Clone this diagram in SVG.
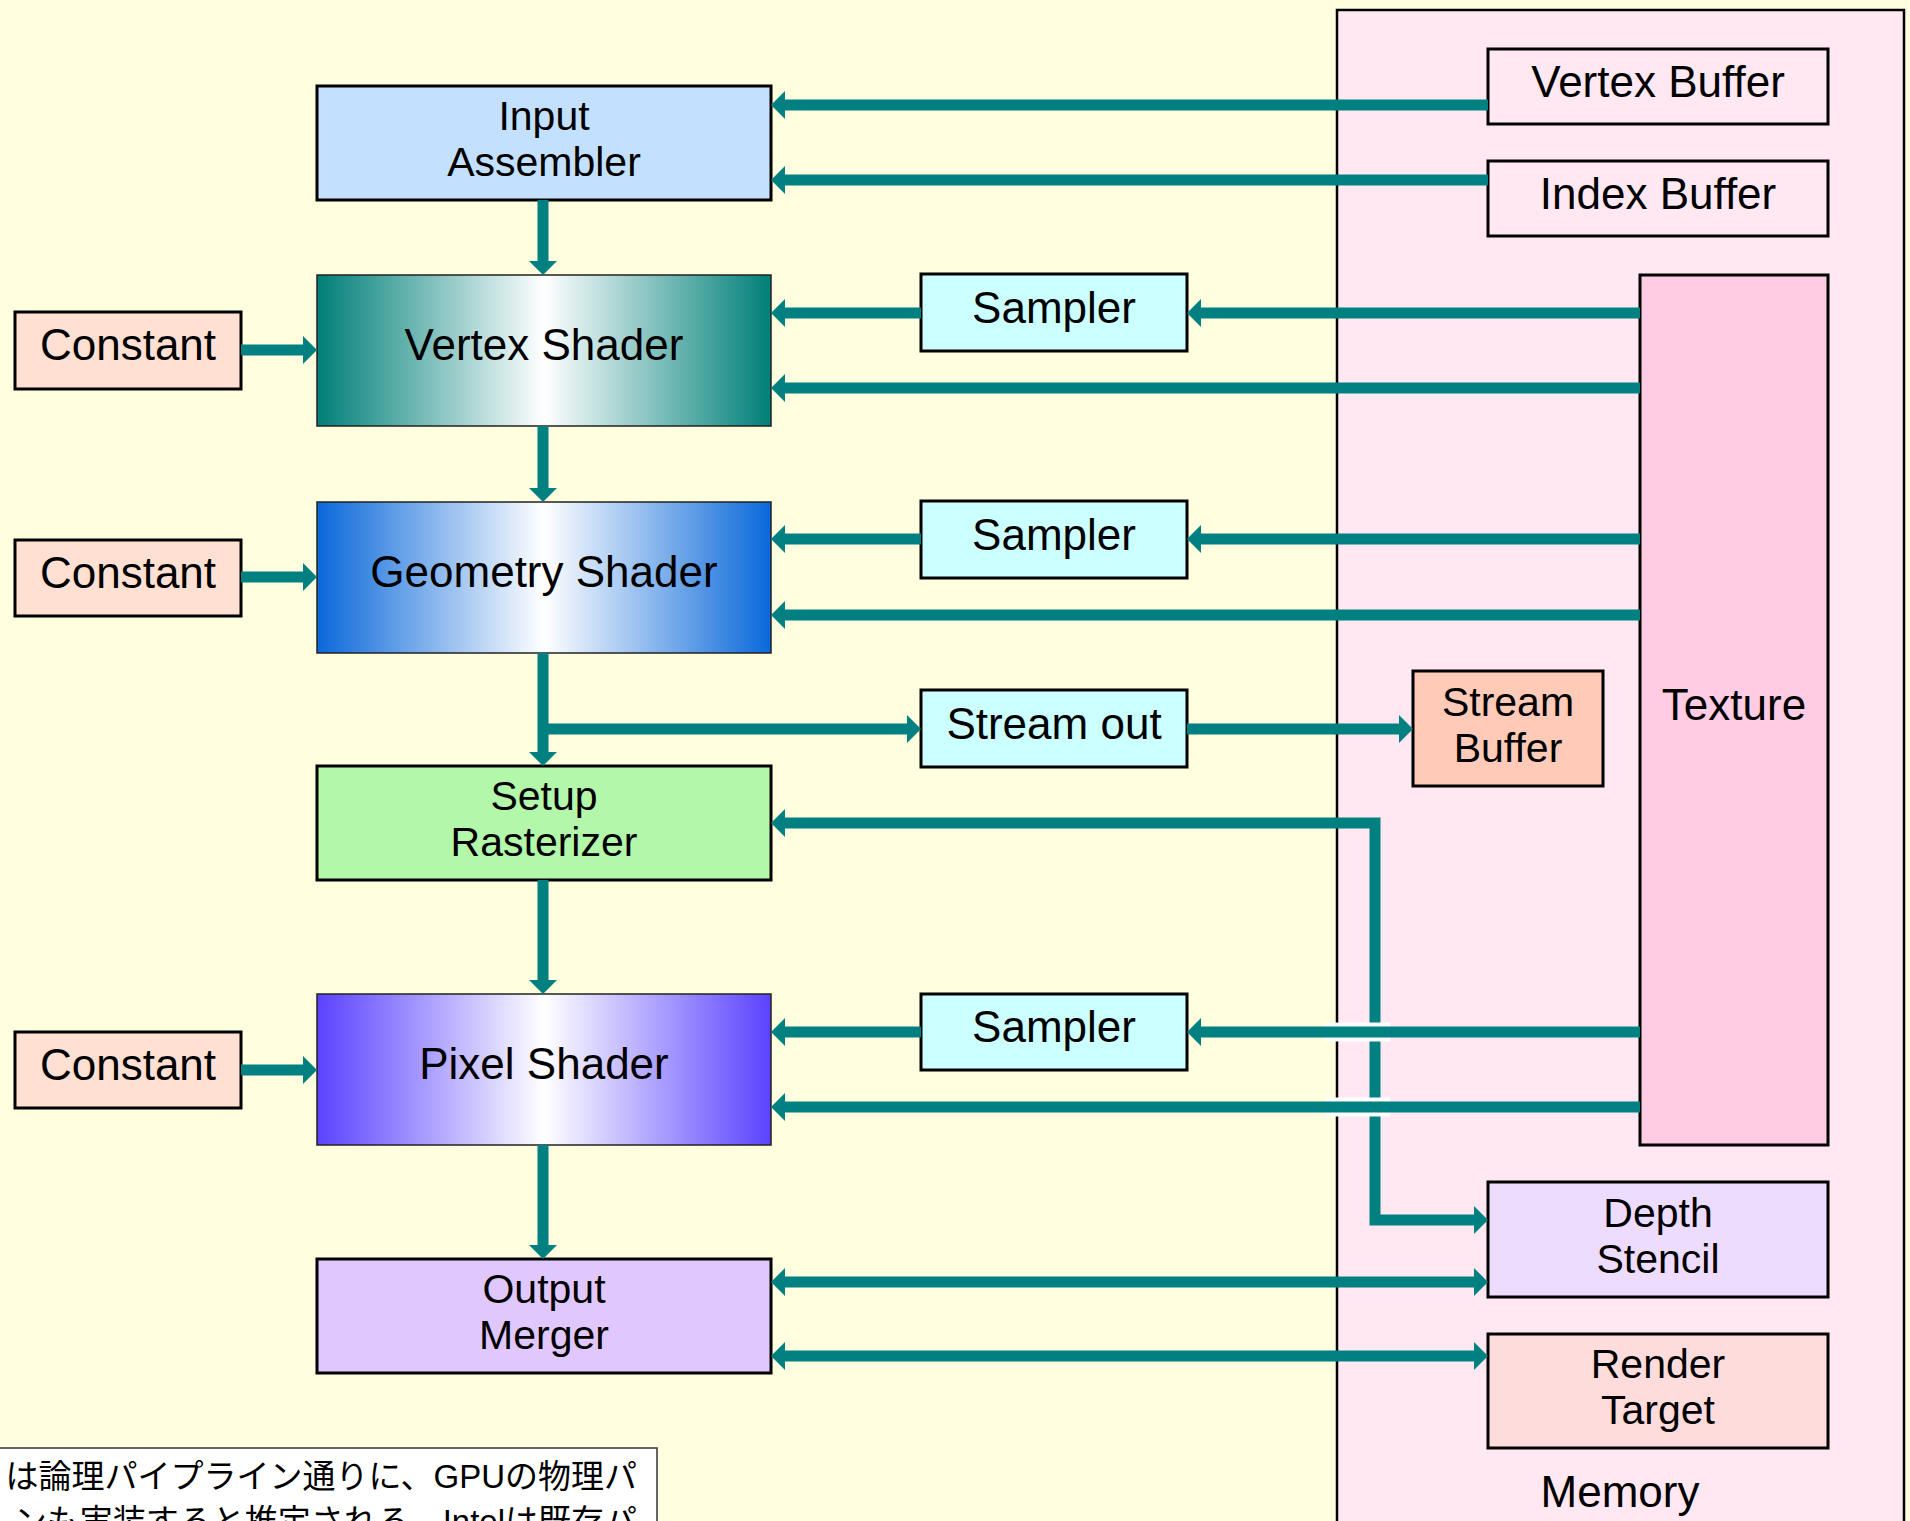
<svg xmlns="http://www.w3.org/2000/svg" width="1910" height="1521" viewBox="0 0 1910 1521">
<style>
.box{stroke:#000;stroke-width:3}
.thin{stroke:#222;stroke-width:1.5}
.lbl{font-family:"Liberation Sans",Arial,sans-serif;font-size:44px;fill:#000;text-anchor:middle}
.lbl2{font-family:"Liberation Sans",Arial,sans-serif;font-size:41px;fill:#000;text-anchor:middle}
.jp{font-family:"Liberation Sans","Noto Sans CJK JP",sans-serif;font-size:33px;fill:#000;text-anchor:end}
.con{fill:none;stroke:#008080;stroke-width:11;stroke-linejoin:miter}
.halo{fill:none;stroke:#fff;stroke-width:19}
</style>
<defs>
<marker id="ah" viewBox="0 0 14 28" refX="0" refY="14" markerWidth="14" markerHeight="28" markerUnits="userSpaceOnUse" orient="auto-start-reverse">
<path d="M0,0 L14,14 L0,28 z" fill="#008080"/>
</marker>
<linearGradient id="gVS" x1="0" y1="0" x2="1" y2="0">
<stop offset="0" stop-color="#007f78"/><stop offset="0.5" stop-color="#ffffff"/><stop offset="1" stop-color="#007f78"/>
</linearGradient>
<linearGradient id="gGS" x1="0" y1="0" x2="1" y2="0">
<stop offset="0" stop-color="#0a68da"/><stop offset="0.5" stop-color="#ffffff"/><stop offset="1" stop-color="#0a68da"/>
</linearGradient>
<linearGradient id="gPS" x1="0" y1="0" x2="1" y2="0">
<stop offset="0" stop-color="#5a42ff"/><stop offset="0.5" stop-color="#ffffff"/><stop offset="1" stop-color="#5a42ff"/>
</linearGradient>
</defs>
<rect x="0" y="0" width="1910" height="1521" fill="#ffffdf"/>

<g id="memory">
<rect x="1337" y="10" width="567" height="1530" fill="#ffe8f1" stroke="#000" stroke-width="2.5"/>
<text class="lbl" x="1620" y="1507">Memory</text>
</g>

<g id="vertex-buffer">
<rect class="box" x="1488" y="49" width="340" height="75" fill="#ffe8f1"/>
<text class="lbl" x="1658" y="97">Vertex Buffer</text>
</g>
<g id="index-buffer">
<rect class="box" x="1488" y="161" width="340" height="75" fill="#ffe8f1"/>
<text class="lbl" x="1658" y="209">Index Buffer</text>
</g>
<g id="texture">
<rect class="box" x="1640" y="275" width="188" height="870" fill="#ffcce4"/>
<text class="lbl" x="1734" y="720">Texture</text>
</g>
<g id="stream-buffer">
<rect class="box" x="1413" y="671" width="190" height="115" fill="#ffcbb8"/>
<text class="lbl2" x="1508" y="716">Stream<tspan x="1508" dy="46">Buffer</tspan></text>
</g>
<g id="depth-stencil">
<rect class="box" x="1488" y="1182" width="340" height="115" fill="#eedcff"/>
<text class="lbl2" x="1658" y="1227">Depth<tspan x="1658" dy="46">Stencil</tspan></text>
</g>
<g id="render-target">
<rect class="box" x="1488" y="1334" width="340" height="114" fill="#ffdcdc"/>
<text class="lbl2" x="1658" y="1378">Render<tspan x="1658" dy="46">Target</tspan></text>
</g>

<g id="input-assembler">
<rect class="box" x="317" y="86" width="454" height="114" fill="#c3e1ff"/>
<text class="lbl2" x="544" y="130">Input<tspan x="544" dy="46">Assembler</tspan></text>
</g>
<g id="vertex-shader">
<rect class="thin" x="317" y="275" width="454" height="151" fill="url(#gVS)"/>
<text class="lbl" x="544" y="360">Vertex Shader</text>
</g>
<g id="geometry-shader">
<rect class="thin" x="317" y="502" width="454" height="151" fill="url(#gGS)"/>
<text class="lbl" x="544" y="587">Geometry Shader</text>
</g>
<g id="setup-rasterizer">
<rect class="box" x="317" y="766" width="454" height="114" fill="#b3f7ab"/>
<text class="lbl2" x="544" y="810">Setup<tspan x="544" dy="46">Rasterizer</tspan></text>
</g>
<g id="pixel-shader">
<rect class="thin" x="317" y="994" width="454" height="151" fill="url(#gPS)"/>
<text class="lbl" x="544" y="1079">Pixel Shader</text>
</g>
<g id="output-merger">
<rect class="box" x="317" y="1259" width="454" height="114" fill="#e0c8ff"/>
<text class="lbl2" x="544" y="1303">Output<tspan x="544" dy="46">Merger</tspan></text>
</g>

<g id="constant-1">
<rect class="box" x="15" y="312" width="226" height="77" fill="#ffe0d2"/>
<text class="lbl" x="128" y="360">Constant</text>
</g>
<g id="constant-2">
<rect class="box" x="15" y="540" width="226" height="76" fill="#ffe0d2"/>
<text class="lbl" x="128" y="588">Constant</text>
</g>
<g id="constant-3">
<rect class="box" x="15" y="1032" width="226" height="76" fill="#ffe0d2"/>
<text class="lbl" x="128" y="1080">Constant</text>
</g>

<g id="sampler-1">
<rect class="box" x="921" y="274" width="266" height="77" fill="#ccffff"/>
<text class="lbl" x="1054" y="323">Sampler</text>
</g>
<g id="sampler-2">
<rect class="box" x="921" y="501" width="266" height="77" fill="#ccffff"/>
<text class="lbl" x="1054" y="550">Sampler</text>
</g>
<g id="stream-out">
<rect class="box" x="921" y="690" width="266" height="77" fill="#ccffff"/>
<text class="lbl" x="1054" y="739">Stream out</text>
</g>
<g id="sampler-3">
<rect class="box" x="921" y="994" width="266" height="76" fill="#ccffff"/>
<text class="lbl" x="1054" y="1042">Sampler</text>
</g>

<g id="connectors">
<path class="con" d="M785,823 H1375 V1220 H1474" marker-start="url(#ah)" marker-end="url(#ah)"/>
<path class="halo" d="M1325,1032 H1390"/>
<path class="halo" d="M1325,1107 H1390"/>
<path class="con" d="M1488,105 H785" marker-end="url(#ah)"/>
<path class="con" d="M1488,180 H785" marker-end="url(#ah)"/>
<path class="con" d="M543,200 V261" marker-end="url(#ah)"/>
<path class="con" d="M241,350 H303" marker-end="url(#ah)"/>
<path class="con" d="M1640,313 H1201" marker-end="url(#ah)"/>
<path class="con" d="M921,313 H785" marker-end="url(#ah)"/>
<path class="con" d="M1640,388 H785" marker-end="url(#ah)"/>
<path class="con" d="M543,426 V488" marker-end="url(#ah)"/>
<path class="con" d="M241,577 H303" marker-end="url(#ah)"/>
<path class="con" d="M1640,539 H1201" marker-end="url(#ah)"/>
<path class="con" d="M921,539 H785" marker-end="url(#ah)"/>
<path class="con" d="M1640,615 H785" marker-end="url(#ah)"/>
<path class="con" d="M543,653 V752" marker-end="url(#ah)"/>
<path class="con" d="M538,729 H907" marker-end="url(#ah)"/>
<path class="con" d="M1187,729 H1399" marker-end="url(#ah)"/>
<path class="con" d="M543,880 V980" marker-end="url(#ah)"/>
<path class="con" d="M241,1070 H303" marker-end="url(#ah)"/>
<path class="con" d="M1640,1032 H1201" marker-end="url(#ah)"/>
<path class="con" d="M921,1032 H785" marker-end="url(#ah)"/>
<path class="con" d="M1640,1107 H785" marker-end="url(#ah)"/>
<path class="con" d="M543,1145 V1245" marker-end="url(#ah)"/>
<path class="con" d="M785,1282 H1474" marker-start="url(#ah)" marker-end="url(#ah)"/>
<path class="con" d="M785,1356 H1474" marker-start="url(#ah)" marker-end="url(#ah)"/>
</g>

<g id="note">
<rect x="-5" y="1448" width="662" height="100" fill="#ffffff" stroke="#333" stroke-width="1.5"/>
<text class="jp" x="637" y="1488">は論理パイプライン通りに、GPUの物理パ<tspan x="637" dy="45">ンも実装すると推定される。Intelは既存パ</tspan></text>
</g>
</svg>
